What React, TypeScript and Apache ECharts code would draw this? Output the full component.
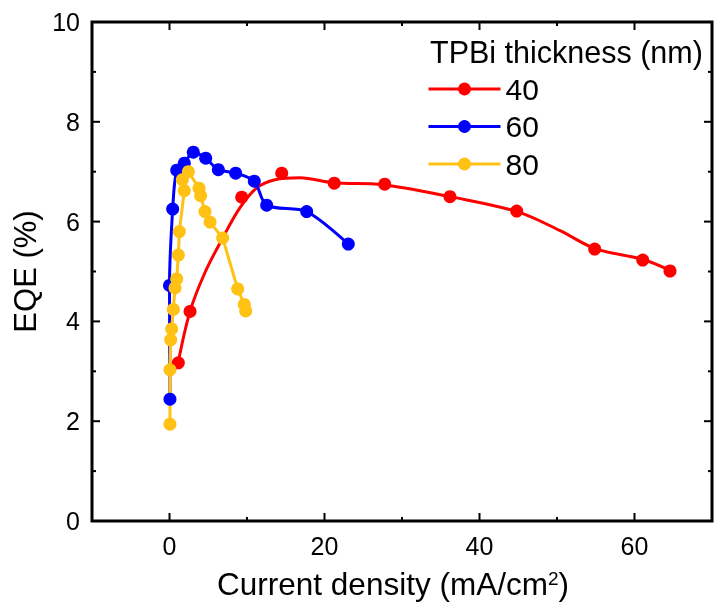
import React, { useEffect, useRef } from "react";
import * as echarts from "echarts";

// TPBi thickness 40 nm: measured points
const red40: number[][] = [
  [1.14, 3.17], [2.65, 4.2], [9.32, 6.49], [14.48, 6.97], [21.26, 6.77], [27.77, 6.75],
  [36.19, 6.5], [44.8, 6.21], [54.86, 5.45], [61.06, 5.23], [64.58, 5.01],
];
// TPBi 40 nm: fitted guide curve
const red40Fit: number[][] = [
  [1.1, 3.16], [2.65, 4.2], [4.58, 4.98], [6.86, 5.67], [9.1, 6.28], [11.29, 6.68],
  [13.6, 6.84], [16.84, 6.88], [21.1, 6.78], [27.55, 6.74], [36.19, 6.5], [44.84, 6.2],
  [50.39, 5.82], [54.9, 5.46], [61.1, 5.24], [64.6, 5.02],
];
// TPBi 60 nm
const blue60: number[][] = [
  [0.06, 2.44], [0.0, 4.72], [0.41, 6.25], [0.93, 7.03], [1.91, 7.17], [3.07, 7.39],
  [4.67, 7.27], [6.3, 7.04], [8.54, 6.97], [10.94, 6.81], [12.54, 6.33], [17.7, 6.2],
  [23.07, 5.55],
];
// TPBi 80 nm
const yellow80: number[][] = [
  [0.06, 1.94], [0.06, 3.03], [0.15, 3.63], [0.28, 3.85], [0.49, 4.24], [0.71, 4.67],
  [0.93, 4.85], [1.14, 5.33], [1.27, 5.8], [1.91, 6.62], [1.66, 6.84], [2.43, 7.0],
  [3.81, 6.67], [4.02, 6.52], [4.58, 6.2], [5.23, 5.99], [6.86, 5.67], [8.8, 4.65],
  [9.65, 4.34], [9.83, 4.21],
];

const X_MIN = -10;
const X_MAX = 70;
const Y_MIN = 0;
const Y_MAX = 10;
const xLabelValues = [0, 20, 40, 60];
const xTickValues = [0, 10, 20, 30, 40, 50, 60];
const yTickValues = [1, 2, 3, 4, 5, 6, 7, 8, 9];
const yLabelValues = [0, 2, 4, 6, 8, 10];
const legendNames = ["40", "60", "80"];

const RED = "#FF0000";
const BLUE = "#0000FF";
const YELLOW = "#FFC114";
const BLACK = "black";
const FONT = "'Liberation Sans', Arial, Helvetica, sans-serif";

// tick data: [kind (0 = x, 1 = y), value, isMajor]
const tickData: number[][] = [
  ...xTickValues.map((v) => [0, v, xLabelValues.indexOf(v) >= 0 ? 1 : 0]),
  ...yTickValues.map((v) => [1, v, yLabelValues.indexOf(v) >= 0 ? 1 : 0]),
];

export default function App() {
  const ref = useRef<HTMLDivElement>(null);

  useEffect(() => {
    if (!ref.current) return;
    const chart = echarts.init(ref.current, null, { renderer: "svg" });

    const tickStyle = { stroke: BLACK, lineWidth: 2 };

    const option: any = {
      animation: false,
      textStyle: { fontFamily: FONT, color: BLACK },
      title: {
        text: "TPBi thickness (nm)",
        left: 430,
        top: 36,
        padding: 0,
        textStyle: { fontFamily: FONT, fontSize: 30.5, fontWeight: "normal", color: BLACK },
      },
      legend: {
        data: legendNames,
        orient: "vertical",
        left: 427,
        top: 74,
        padding: 0,
        itemWidth: 72,
        itemHeight: 16,
        itemGap: 7.5,
        lineStyle: { width: 3 },
        textStyle: { fontFamily: FONT, fontSize: 30, color: BLACK, lineHeight: 30 },
      },
      grid: {
        left: 92,
        right: 3,
        top: 22,
        bottom: 87,
        show: true,
        borderColor: BLACK,
        borderWidth: 3,
      },
      xAxis: {
        type: "value",
        position: "bottom",
        min: X_MIN,
        max: X_MAX,
        interval: 10,
        axisLine: { show: false, onZero: false },
        axisTick: { show: false },
        splitLine: { show: false },
        axisLabel: {
          show: true,
          fontSize: 25,
          fontFamily: FONT,
          color: BLACK,
          margin: 12,
          formatter: (v: number) => (xLabelValues.indexOf(v) >= 0 ? String(v) : ""),
        },
        name: "{a|Current density (mA/cm}{b|2}{a|)}",
        nameLocation: "middle",
        nameGap: 46,
        nameTextStyle: {
          padding: [0, 18, 0, 0],
          rich: {
            a: { fontSize: 31.5, fontFamily: FONT, color: BLACK, lineHeight: 34 },
            b: { fontSize: 19, fontFamily: FONT, color: BLACK, verticalAlign: "top", lineHeight: 19, padding: [2, 0, 0, 0] },
          },
        },
      },
      yAxis: {
        type: "value",
        position: "left",
        min: Y_MIN,
        max: Y_MAX,
        interval: 2,
        axisLine: { show: false, onZero: false },
        axisTick: { show: false },
        splitLine: { show: false },
        axisLabel: { show: true, fontSize: 25, fontFamily: FONT, color: BLACK, margin: 12 },
        name: "EQE (%)",
        nameLocation: "middle",
        nameGap: 46,
        nameTextStyle: { fontSize: 31, fontFamily: FONT, color: BLACK },
      },
      series: [
        {
          name: "ticks",
          type: "custom",
          data: tickData,
          clip: false,
          silent: true,
          encode: { x: -1, y: -1 },
          renderItem: (_params: any, api: any) => {
            const kind = api.value(0);
            const v = api.value(1);
            const len = api.value(2) ? 8 : 4;
            if (kind === 0) {
              const b = api.coord([v, Y_MIN]);
              const t = api.coord([v, Y_MAX]);
              return {
                type: "group",
                children: [
                  { type: "line", shape: { x1: b[0], y1: b[1], x2: b[0], y2: b[1] - len }, style: tickStyle },
                  { type: "line", shape: { x1: t[0], y1: t[1], x2: t[0], y2: t[1] + len }, style: tickStyle },
                ],
              };
            }
            const l = api.coord([X_MIN, v]);
            const r = api.coord([X_MAX, v]);
            return {
              type: "group",
              children: [
                { type: "line", shape: { x1: l[0], y1: l[1], x2: l[0] + len, y2: l[1] }, style: tickStyle },
                { type: "line", shape: { x1: r[0], y1: r[1], x2: r[0] - len, y2: r[1] }, style: tickStyle },
              ],
            };
          },
        },
        {
          name: "40",
          type: "line",
          data: red40Fit,
          smooth: 0.35,
          symbol: "none",
          lineStyle: { color: RED, width: 3 },
          itemStyle: { color: RED },
        },
        {
          name: "40 data",
          type: "scatter",
          data: red40,
          symbol: "circle",
          symbolSize: 13,
          itemStyle: { color: RED, opacity: 1 },
        },
        {
          name: "60",
          type: "line",
          data: blue60,
          smooth: 0.3,
          symbol: "circle",
          symbolSize: 13,
          showAllSymbol: true,
          lineStyle: { color: BLUE, width: 3 },
          itemStyle: { color: BLUE, opacity: 1 },
        },
        {
          name: "80",
          type: "line",
          data: yellow80,
          smooth: false,
          symbol: "circle",
          symbolSize: 13,
          showAllSymbol: true,
          lineStyle: { color: YELLOW, width: 3 },
          itemStyle: { color: YELLOW, opacity: 1 },
        },
      ],
    };

    chart.setOption(option);
    return () => chart.dispose();
  }, []);

  return (
    <div
      ref={ref}
      style={{ position: "fixed", left: 0, top: 0, width: 715, height: 608 }}
    />
  );
}
